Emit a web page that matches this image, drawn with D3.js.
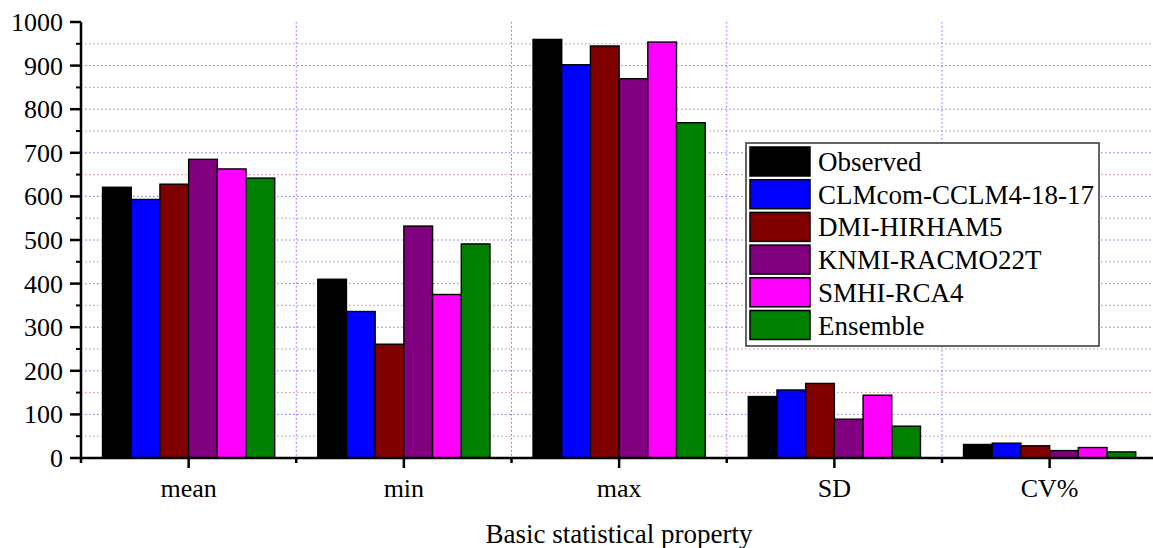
<!DOCTYPE html>
<html>
<head>
<meta charset="utf-8">
<script src="https://cdn.jsdelivr.net/npm/d3@7"></script>
<style>
  body { margin: 0; background: #fff; }
</style>
</head>
<body>
<div id="chart"></div>
<script>
// categories on the x axis
const categories = ['mean', 'min', 'max', 'SD', 'CV%'];
// one series per model
const seriesNames = ['Observed', 'CLMcom-CCLM4-18-17', 'DMI-HIRHAM5', 'KNMI-RACMO22T', 'SMHI-RCA4', 'Ensemble'];
const observed = [621, 410, 960, 141, 31];
const clmcom = [593, 336, 902, 156, 34];
const dmi = [628, 261, 945, 171, 28];
const knmi = [685, 532, 870, 89, 17];
const smhi = [663, 375, 954, 144, 24];
const ensemble = [642, 491, 769, 73, 14];
const seriesColors = ['#000000', '#0000ff', '#800000', '#800080', '#ff00ff', '#008000'];
const yTicks = [0, 100, 200, 300, 400, 500, 600, 700, 800, 900, 1000];

const allValues = [observed, clmcom, dmi, knmi, smhi, ensemble];

const width = 1153;
const height = 548;
const margin = {top: 22, left: 81, bottom: 90};
const plotBottom = height - margin.bottom; // y of zero line
const step = 215.25;
const serif = '"Liberation Serif", "Times New Roman", Times, serif';

const svg = d3.select('#chart').append('svg')
  .attr('width', width)
  .attr('height', height)
  .attr('font-family', serif);

const x = d3.scaleBand()
  .domain(categories)
  .range([margin.left, margin.left + step * categories.length])
  .paddingInner(0)
  .paddingOuter(0);

const xSub = d3.scaleBand()
  .domain(seriesNames)
  .range([0, x.bandwidth()])
  .paddingInner(0)
  .paddingOuter(0.75);

const y = d3.scaleLinear()
  .domain([0, 1000])
  .range([plotBottom, margin.top]);

// grid lines
const grid = svg.append('g');
const minorVals = d3.range(50, 1000, 100);
const majorVals = d3.range(100, 1000, 100);

grid.selectAll('.minor').data(minorVals).enter().append('line')
  .attr('x1', margin.left).attr('x2', width)
  .attr('y1', d => y(d)).attr('y2', d => y(d))
  .attr('stroke', '#dc8585')
  .attr('stroke-width', 1)
  .attr('stroke-dasharray', '1.5,2.5');

grid.selectAll('.major').data(majorVals).enter().append('line')
  .attr('x1', margin.left).attr('x2', width)
  .attr('y1', d => y(d)).attr('y2', d => y(d))
  .attr('stroke', '#7070ff')
  .attr('stroke-width', 1)
  .attr('stroke-dasharray', '1.5,2.5');

grid.selectAll('.vgrid').data(categories.slice(1)).enter().append('line')
  .attr('x1', d => x(d)).attr('x2', d => x(d))
  .attr('y1', y(1000)).attr('y2', plotBottom)
  .attr('stroke', '#7070ff')
  .attr('stroke-width', 1)
  .attr('stroke-dasharray', '1.5,2.5');

// bars
const groups = svg.append('g').selectAll('g')
  .data(seriesNames)
  .enter().append('g')
  .attr('fill', (d, i) => seriesColors[i]);

groups.selectAll('rect')
  .data((s, i) => categories.map((c, j) => ({cat: c, series: s, value: allValues[i][j]})))
  .enter().append('rect')
  .attr('x', d => x(d.cat) + xSub(d.series))
  .attr('y', d => y(d.value))
  .attr('width', xSub.bandwidth())
  .attr('height', d => plotBottom - y(d.value))
  .attr('stroke', '#000')
  .attr('stroke-width', 1.4);

// y axis
const yAxis = svg.append('g');
yAxis.append('line')
  .attr('x1', margin.left).attr('x2', margin.left)
  .attr('y1', y(1000)).attr('y2', plotBottom + 1)
  .attr('stroke', '#000').attr('stroke-width', 2.5);
yAxis.selectAll('.ytick').data(yTicks).enter().append('line')
  .attr('x1', margin.left - 11).attr('x2', margin.left)
  .attr('y1', d => y(d)).attr('y2', d => y(d))
  .attr('stroke', '#000').attr('stroke-width', 2.5);
yAxis.selectAll('.yminor').data(minorVals).enter().append('line')
  .attr('x1', margin.left - 5).attr('x2', margin.left)
  .attr('y1', d => y(d)).attr('y2', d => y(d))
  .attr('stroke', '#000').attr('stroke-width', 2);
yAxis.selectAll('text').data(yTicks).enter().append('text')
  .attr('x', margin.left - 18)
  .attr('y', d => y(d) + 9)
  .attr('text-anchor', 'end')
  .attr('font-family', serif)
  .attr('font-size', 26)
  .text(d => d);

// x axis
const xAxis = svg.append('g');
xAxis.append('line')
  .attr('x1', margin.left - 1).attr('x2', width)
  .attr('y1', plotBottom).attr('y2', plotBottom)
  .attr('stroke', '#000').attr('stroke-width', 2.5);
xAxis.selectAll('.xtick').data(categories).enter().append('line')
  .attr('x1', d => x(d) + x.bandwidth() / 2).attr('x2', d => x(d) + x.bandwidth() / 2)
  .attr('y1', plotBottom).attr('y2', plotBottom + 10)
  .attr('stroke', '#000').attr('stroke-width', 2.5);
xAxis.selectAll('.xminor').data(categories).enter().append('line')
  .attr('x1', d => x(d)).attr('x2', d => x(d))
  .attr('y1', plotBottom).attr('y2', plotBottom + 5)
  .attr('stroke', '#000').attr('stroke-width', 2.5);
xAxis.selectAll('text').data(categories).enter().append('text')
  .attr('x', d => x(d) + x.bandwidth() / 2)
  .attr('y', 497)
  .attr('text-anchor', 'middle')
  .attr('font-family', serif)
  .attr('font-size', 26)
  .text(d => d);

svg.append('text')
  .attr('x', 619)
  .attr('y', 543)
  .attr('text-anchor', 'middle')
  .attr('font-family', serif)
  .attr('font-size', 27)
  .text('Basic statistical property');

// legend
const legend = svg.append('g').attr('transform', 'translate(746,143)');
legend.append('rect')
  .attr('width', 353).attr('height', 203)
  .attr('fill', '#fff')
  .attr('stroke', '#333').attr('stroke-width', 1.5);
const rowH = 32.7;
const items = legend.selectAll('g.item').data(seriesNames).enter().append('g')
  .attr('transform', (d, i) => `translate(0, ${4 + i * rowH})`);
items.append('rect')
  .attr('x', 4).attr('width', 60).attr('height', 29)
  .attr('fill', (d, i) => seriesColors[i])
  .attr('stroke', '#000').attr('stroke-width', 1.5);
items.append('text')
  .attr('x', 72).attr('y', 24)
  .attr('font-family', serif)
  .attr('font-size', 27)
  .text(d => d);
</script>
</body>
</html>
